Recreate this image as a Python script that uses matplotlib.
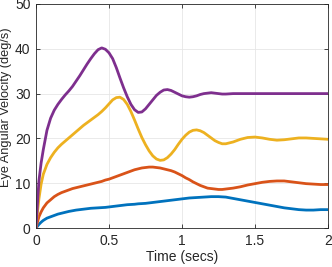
import numpy as np
import matplotlib
matplotlib.use('Agg')
import matplotlib.pyplot as plt

# values at these times (secs)
t = [0, 0.01, 0.02, 0.035, 0.05,
     0.075, 0.1, 0.125, 0.15, 0.175, 0.2, 0.225, 0.25, 0.275, 0.3,
     0.325, 0.35, 0.375, 0.4, 0.425, 0.45, 0.475, 0.5, 0.525, 0.55,
     0.575, 0.6, 0.625, 0.65, 0.675, 0.7, 0.725, 0.75, 0.775, 0.8,
     0.825, 0.85, 0.875, 0.9, 0.925, 0.95, 0.975, 1.0, 1.025, 1.05,
     1.075, 1.1, 1.125, 1.15, 1.175, 1.2, 1.225, 1.25, 1.275, 1.3,
     1.35, 1.4, 1.45, 1.5, 1.55, 1.6, 1.65, 1.7, 1.75, 1.8, 1.85, 1.9, 1.95, 2.0]

blue = [0, 0.4, 0.8, 1.3, 1.7,
        2.2, 2.5, 2.8, 3.1, 3.3, 3.5, 3.7, 3.85, 4.0, 4.1,
        4.2, 4.3, 4.4, 4.45, 4.5, 4.55, 4.6, 4.7, 4.8, 4.9,
        5.0, 5.1, 5.2, 5.25, 5.3, 5.4, 5.45, 5.5, 5.6, 5.7,
        5.8, 5.9, 6.0, 6.1, 6.2, 6.3, 6.4, 6.5, 6.6, 6.7,
        6.75, 6.8, 6.85, 6.9, 6.95, 7.0, 7.0, 7.0, 6.95, 6.9,
        6.6, 6.3, 6.0, 5.7, 5.4, 5.1, 4.8, 4.5, 4.3, 4.1, 4.0, 4.0, 4.1, 4.1]

orange = [0, 1.3, 2.5, 3.6, 4.5,
          5.6, 6.3, 7.0, 7.5, 7.9, 8.2, 8.5, 8.8, 9.0, 9.2,
          9.4, 9.6, 9.8, 10.0, 10.2, 10.4, 10.7, 10.9, 11.2, 11.5,
          11.8, 12.1, 12.4, 12.7, 13.0, 13.2, 13.4, 13.5, 13.6, 13.6,
          13.5, 13.4, 13.2, 13.0, 12.8, 12.5, 12.1, 11.7, 11.2, 10.8,
          10.3, 9.9, 9.5, 9.2, 8.9, 8.8, 8.7, 8.6, 8.6, 8.7,
          8.9, 9.2, 9.6, 9.9, 10.2, 10.4, 10.5, 10.5, 10.3, 10.1, 9.9, 9.8, 9.7, 9.7]

yellow = [0, 3.5, 6.5, 9.8, 12.0,
          14.2, 15.7, 16.9, 17.9, 18.7, 19.4, 20.1, 20.8, 21.5, 22.2,
          22.9, 23.5, 24.1, 24.7, 25.3, 26.0, 26.8, 27.7, 28.6, 29.1,
          29.2, 28.7, 27.6, 26.0, 24.1, 22.1, 20.2, 18.6, 17.2, 16.1,
          15.4, 15.1, 15.2, 15.7, 16.5, 17.5, 18.7, 19.8, 20.7, 21.4,
          21.8, 21.9, 21.7, 21.3, 20.7, 20.1, 19.5, 19.1, 18.8, 18.8,
          19.2, 19.8, 20.2, 20.3, 20.1, 19.8, 19.6, 19.7, 19.9, 20.1, 20.1, 20.0, 19.9, 19.8]

purple = [0, 5.5, 10.5, 14.5, 17.5,
          21.8, 24.5, 26.3, 27.6, 28.7, 29.7, 30.6, 31.6, 32.8, 34.0,
          35.3, 36.6, 37.8, 38.9, 39.8, 40.2, 39.9, 39.1, 37.8, 35.8,
          33.5, 31.3, 29.3, 27.6, 26.4, 25.8, 25.9, 26.6, 27.6, 28.6,
          29.6, 30.3, 30.8, 30.9, 30.7, 30.3, 29.9, 29.5, 29.3, 29.2,
          29.3, 29.5, 29.8, 30.0, 30.1, 30.2, 30.1, 30.0, 29.9, 29.9,
          30.0, 30.0, 30.0, 30.0, 30.0, 30.0, 30.0, 30.0, 30.0, 30.0, 30.0, 30.0, 30.0, 30.0]

xticks = [0, 0.5, 1, 1.5, 2]
xticklabels = ['0', '0.5', '1', '1.5', '2']
yticks = [0, 10, 20, 30, 40, 50]

plt.rcParams['font.family'] = ['Liberation Sans', 'DejaVu Sans']

fig = plt.figure(figsize=(3.32, 2.67), dpi=100)
ax = fig.add_axes([36/332, 1 - 228/267, 292/332, 224/267])

ax.plot(t, blue, color='#0072BD', lw=2.0)
ax.plot(t, orange, color='#D95319', lw=2.0)
ax.plot(t, yellow, color='#EDB120', lw=2.0)
ax.plot(t, purple, color='#7E2F8E', lw=2.0)

ax.set_xlim(0, 2)
ax.set_ylim(0, 50)
ax.set_xticks(xticks)
ax.set_xticklabels(xticklabels)
ax.set_yticks(yticks)
ax.grid(True, color='#e6e6e6', lw=0.6)
ax.set_axisbelow(True)
ax.tick_params(direction='in', top=True, right=True, length=3, width=0.6,
               colors='#262626', labelsize=10, pad=4)
for s in ax.spines.values():
    s.set_color('#262626')
    s.set_linewidth(0.6)

ax.set_xlabel('Time (secs)', fontsize=10, color='#262626', labelpad=2)
ax.set_ylabel('Eye Angular Velocity (deg/s)', fontsize=9.2, color='#262626')
ax.yaxis.set_label_coords(-0.082, 0.54)

fig.savefig('out.png', dpi=100)
